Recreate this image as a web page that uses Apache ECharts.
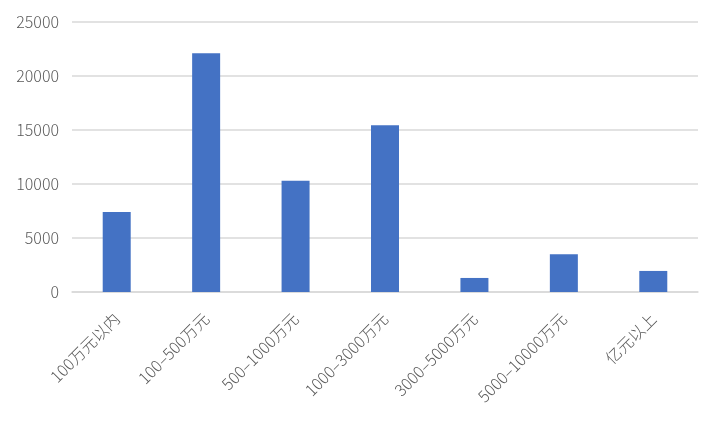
<!DOCTYPE html>
<html><head><meta charset="utf-8">
<script src="https://cdn.jsdelivr.net/npm/echarts@6/dist/echarts.min.js"></script>
<style>html,body{margin:0;padding:0;background:#fff}#c{width:720px;height:432px}</style>
</head><body><div id="c"></div>
<script>
const categories = ['100万元以内','100–500万元','500–1000万元','1000–3000万元','3000–5000万元','5000–10000万元','亿元以上'];
const values = [7400, 22100, 10300, 15450, 1300, 3500, 1950];
const yTicks = {min: 0, max: 25000, interval: 5000};

const chart = echarts.init(document.getElementById('c'), null, {renderer: 'canvas'});
chart.setOption({
  animation: false,
  backgroundColor: '#fff',
  grid: {left: 72, right: 22, top: 22, bottom: 140},
  xAxis: {
    type: 'category',
    data: categories,
    axisLine: {lineStyle: {color: '#d9d9d9', width: 1.5}},
    axisTick: {show: false},
    axisLabel: {rotate: 45, color: '#595959', fontSize: 16, margin: 24, interval: 0,
      fontFamily: 'Noto Sans CJK SC', fontWeight: 300}
  },
  yAxis: {
    type: 'value',
    min: yTicks.min, max: yTicks.max, interval: yTicks.interval,
    axisLine: {show: false},
    axisTick: {show: false},
    splitLine: {lineStyle: {color: '#d9d9d9', width: 1.5}},
    axisLabel: {color: '#595959', fontSize: 16, margin: 13,
      formatter: v => String(v),
      fontFamily: 'Noto Sans CJK SC', fontWeight: 300}
  },
  series: [{
    type: 'bar',
    data: values,
    barWidth: 28,
    itemStyle: {color: '#4472c4'}
  }]
});
</script></body></html>
